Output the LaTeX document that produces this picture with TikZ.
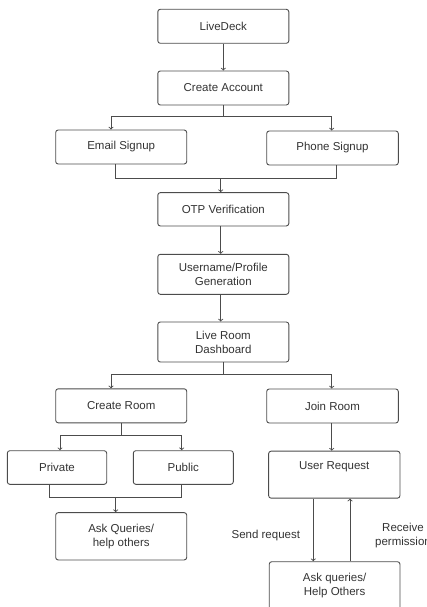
\documentclass[tikz,border=0pt]{standalone}
\usepackage{fontspec}
\setmainfont{Liberation Sans}
\usetikzlibrary{calc,positioning}

\begin{document}
\begin{tikzpicture}[x=1pt,y=-1pt,
		every node/.style={font=\fontsize{11.5}{14}\selectfont,text=black!80},
		step box/.style={draw=black!70,line width=0.9pt,rounded corners=2.5pt,
			align=center,inner sep=0pt,minimum width=131pt,minimum height=34pt},
		flow/.style={draw=black!70,line width=0.9pt}]
	\useasboundingbox (0,0) rectangle (427,607);
	% main column
	\node [step box] (livedeck) at (223.3,26.3) {LiveDeck};
	\node [step box] (account) at (223.3,88) {Create Account};
	\node [step box] (email) at (121.2,147) {Email Signup};
	\node [step box,minimum width=131.6pt] (phone) at (332.5,148) {Phone Signup};
	\node [step box,minimum height=33.3pt] (otp) at (223.3,209.3) {OTP Verification};
	\node [step box,minimum height=40pt] (profile) at (223.3,274.3) {Username/Profile\\Generation};
	\node [step box,minimum height=40pt] (dashboard) at (223.3,342) {Live Room\\Dashboard};
	% create side
	\node [step box] (create) at (121.2,405.8) {Create Room};
	\node [step box,minimum width=99.4pt,minimum height=33.6pt] (private) at (57,467.5) {Private};
	\node [step box,minimum width=100pt,minimum height=33.6pt] (public) at (183.3,467.5) {Public};
	\node [step box,minimum height=47.3pt] (askcreate) at (121.2,536.3) {Ask Queries/\\help others};
	% join side
	\node [step box,minimum width=131.6pt] (join) at (332.5,406) {Join Room};
	\node [step box,minimum width=131.3pt,minimum height=47pt,anchor=north] (request) at (334.3,450.7) {};
	\node [below=7pt of request.north] (requesttext) {User Request};
	\node [step box,minimum width=130.7pt,minimum height=48pt] (askjoin) at (334.6,585.7) {Ask queries/\\Help Others};
	\node (sendlbl) at (265.8,535.7) {Send request};
	\node [align=center] (recvlbl) at (403,536) {Receive\\permission};

	\draw [flow,->] (livedeck) -- (account);
	\draw [flow,->] (account.south) -- ++(0,11.3) -| ([xshift=-10.2pt]email.north);
	\draw [flow,->] (account.south) -- ++(0,11.3) -| ([xshift=-0.8pt]phone.north);
	\draw [flow] ([xshift=-6.2pt]email.south) -- ++(0,14.3) coordinate (merge1)
		-| ([xshift=3.5pt]phone.south);
	\draw [flow,->] ([xshift=-2.6pt]otp.north |- merge1) -- ([xshift=-2.6pt]otp.north);
	\draw [flow,->] ([xshift=-2.6pt]otp.south) -- ([xshift=-2.6pt]profile.north);
	\draw [flow,->] ([xshift=-2.6pt]profile.south) -- ([xshift=-2.6pt]dashboard.north);
	\draw [flow,->] (dashboard.south) -- ++(0,12) -| ([xshift=-10.2pt]create.north);
	\draw [flow,->] (dashboard.south) -- ++(0,12) -| ([xshift=-0.8pt]join.north);
	\draw [flow,->] ([xshift=0.5pt]create.south) -- ++(0,12.3) -| ([xshift=3pt]private.north);
	\draw [flow,->] ([xshift=0.5pt]create.south) -- ++(0,12.3) -| ([xshift=-1.6pt]public.north);
	\draw [flow] ([xshift=-7.7pt]private.south) -- ++(0,13) coordinate (merge2)
		-| ([xshift=-1.6pt]public.south);
	\draw [flow,->] ([xshift=-5.5pt]askcreate.north |- merge2) -- ([xshift=-5.5pt]askcreate.north);
	\draw [flow,->] ([xshift=-0.8pt]join.south) -- ([xshift=-0.8pt]join.south |- request.north);
	\draw [flow,->] ([xshift=-21pt]request.south) -- ([xshift=-21pt]request.south |- askjoin.north);
	\draw [flow,->] ([xshift=15.7pt]request.south |- askjoin.north) -- ([xshift=15.7pt]request.south);
\end{tikzpicture}
\end{document}
